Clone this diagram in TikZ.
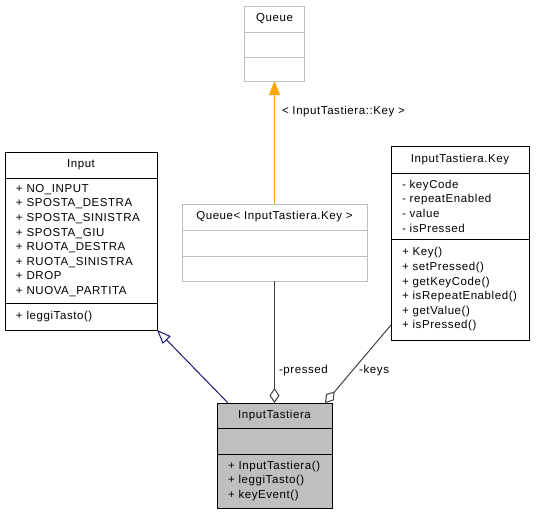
\documentclass[tikz,border=0pt]{standalone}
\usepackage{fontspec}
\setmainfont{Liberation Sans}[LetterSpace=5]
\usepackage{tikz}
\usetikzlibrary{arrows.meta, positioning}
\definecolor{tplgray}{HTML}{BFBFBF}
\definecolor{edgegray}{HTML}{404040}
\definecolor{navy}{HTML}{191970}
\definecolor{tplorange}{HTML}{FFA500}

\begin{document}
\begin{tikzpicture}[x=1pt, y=-1pt,
        font=\fontsize{11.5}{14.6}\selectfont,
        classe/.style={rectangle, draw, fill=white, line width=1pt, inner sep=0pt, outer sep=0pt, align=center},
        template/.style={classe, draw=tplgray},
        membri/.style={classe, align=left, inner xsep=11pt},
        gen/.style={navy, line width=1pt, -{Triangle[length=14pt, width=11pt, fill=white]}},
        aggr/.style={edgegray, line width=1pt, -{Diamond[length=15pt, width=10pt, fill=white]}},
        dipende/.style={tplorange, line width=1pt, -{Triangle[length=14pt, width=11pt]}},
        etichetta/.style={text=black, inner sep=0pt}]
    \useasboundingbox (0,0) rectangle (537,515);

    % template Queue
    \node[template, minimum width=60pt, minimum height=26pt] (queue) at (274.5,19) {Queue};
    \node[template, minimum width=60pt, minimum height=25pt, below=0pt of queue] (queuea) {};
    \node[template, minimum width=60pt, minimum height=24pt, below=0pt of queuea] (queuem) {};

    % Queue< InputTastiera.Key >
    \node[template, minimum width=185pt, minimum height=26pt] (queuekey) at (274.5,217) {Queue< InputTastiera.Key >};
    \node[template, minimum width=185pt, minimum height=26pt, below=0pt of queuekey] (queuekeya) {};
    \node[template, minimum width=185pt, minimum height=25pt, below=0pt of queuekeya] (queuekeym) {};

    % Input
    \node[classe, minimum width=152pt, minimum height=26pt] (input) at (81,165) {Input};
    \node[membri, text width=130pt, minimum height=125pt, below=0pt of input] (inputa)
        {+~NO\_INPUT\\+~SPOSTA\_DESTRA\\+~SPOSTA\_SINISTRA\\+~SPOSTA\_GIU\\+~RUOTA\_DESTRA\\+~RUOTA\_SINISTRA\\+~DROP\\+~NUOVA\_PARTITA};
    \node[membri, text width=130pt, minimum height=27pt, below=0pt of inputa] (inputm) {+~leggiTasto()};

    % InputTastiera.Key
    \node[classe, minimum width=138pt, minimum height=27pt] (key) at (460,159.5) {InputTastiera.Key};
    \node[membri, text width=116pt, minimum height=66pt, below=0pt of key] (keya)
        {-~keyCode\\-~repeatEnabled\\-~value\\-~isPressed};
    \node[membri, text width=116pt, minimum height=101pt, below=0pt of keya] (keym)
        {+~Key()\\+~setPressed()\\+~getKeyCode()\\+~isRepeatEnabled()\\+~getValue()\\+~isPressed()};

    % InputTastiera
    \node[classe, fill=tplgray, minimum width=115pt, minimum height=25pt] (tastiera) at (274.5,415.5) {InputTastiera};
    \node[classe, fill=tplgray, minimum width=115pt, minimum height=26pt, below=0pt of tastiera] (tastieraa) {};
    \node[membri, fill=tplgray, text width=93pt, minimum height=54pt, below=0pt of tastieraa] (tastieram)
        {+~InputTastiera()\\+~leggiTasto()\\+~keyEvent()};

    % relazioni
    \draw[dipende] (queuekey) -- (queuem) node[etichetta, pos=0.75, right=7pt] {< InputTastiera::Key >};
    \draw[gen] ([xshift=11pt]tastiera.north west) -- (inputm.south east);
    \draw[aggr] (queuekeym) -- (tastiera) node[etichetta, pos=0.73, right=4pt] {-pressed};
    \draw[aggr] ([yshift=15pt]keym.south west) -- ([xshift=-7pt]tastiera.north east)
        node[etichetta, pos=0.58, right=6pt] {-keys};
\end{tikzpicture}
\end{document}
